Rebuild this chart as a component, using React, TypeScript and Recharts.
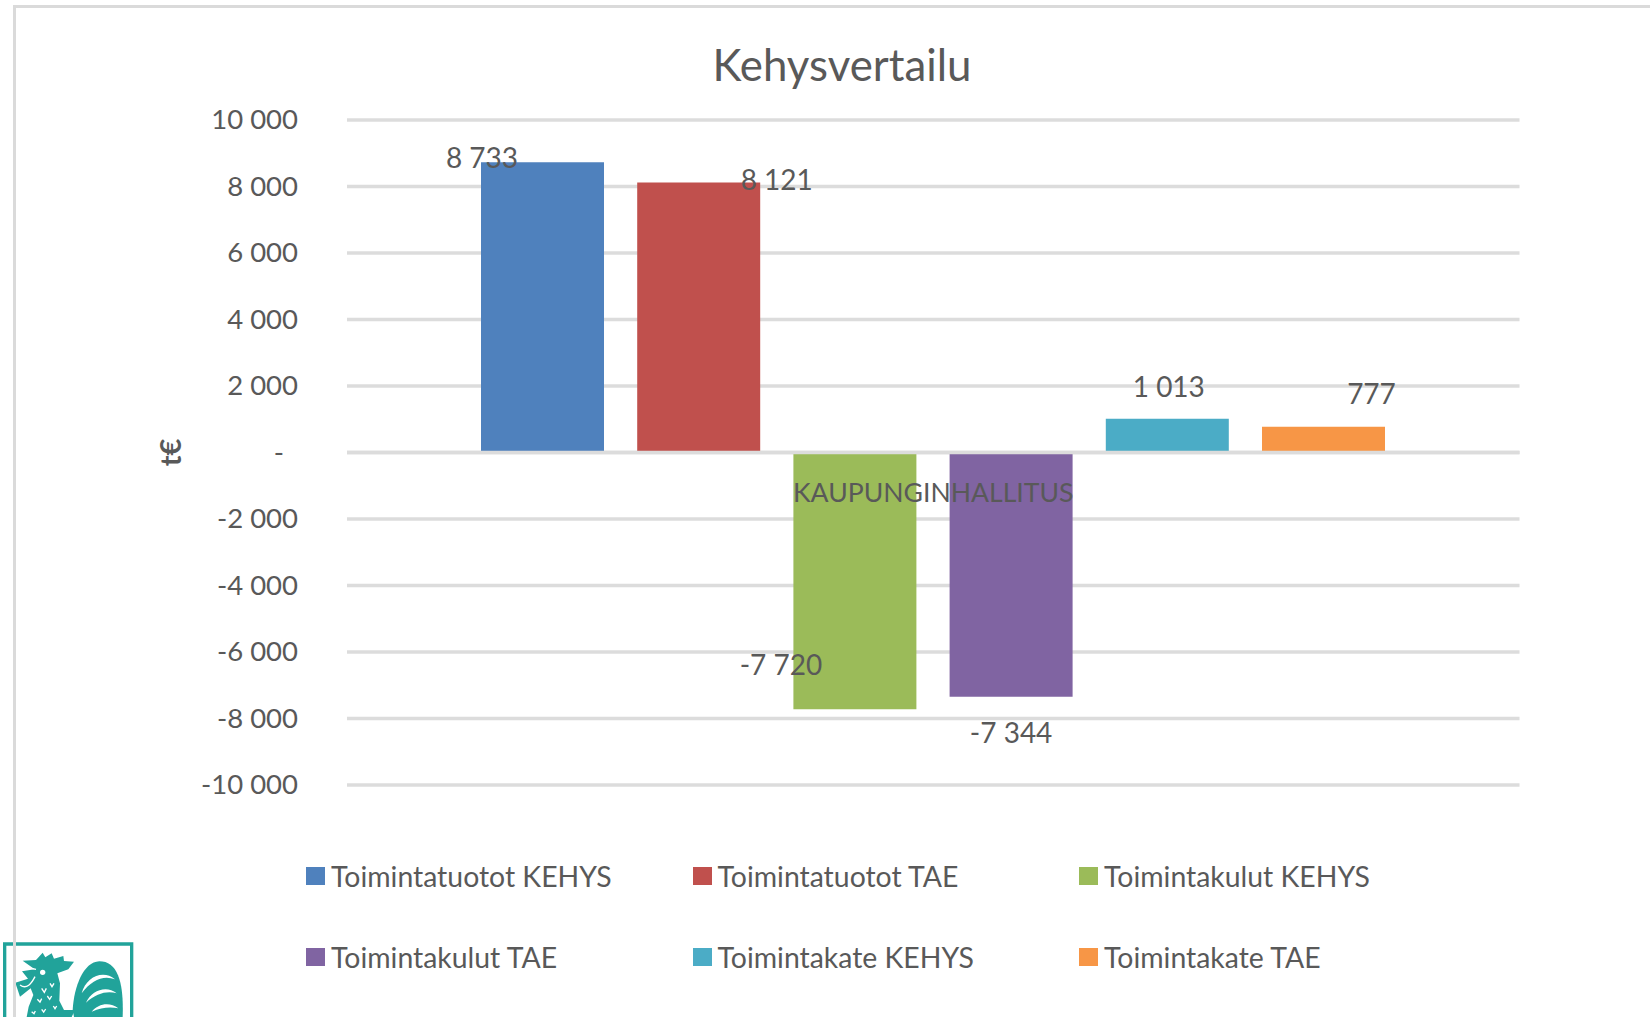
import React from "react";
import { BarChart, Bar, XAxis, YAxis, CartesianGrid, Legend, LabelList, ReferenceLine } from "recharts";

const CATEGORIES = ["KAUPUNGINHALLITUS"];
const SERIES_NAMES = [
  "Toimintatuotot KEHYS",
  "Toimintatuotot TAE",
  "Toimintakulut KEHYS",
  "Toimintakulut TAE",
  "Toimintakate KEHYS",
  "Toimintakate TAE",
];
const SERIES_VALUES = [8733, 8121, -7720, -7344, 1013, 777];
const Y_TICKS = [10000, 8000, 6000, 4000, 2000, 0, -2000, -4000, -6000, -8000, -10000];

const COLORS = ["#4f81bd", "#c0504d", "#9bbb59", "#8064a2", "#4bacc6", "#f79646"];
// where each data label sits, measured from the middle of the bar end
const LABEL_OFFSETS = [
  [-60.5, -5.5],
  [78, -3.5],
  [-74, -45],
  [0, 35],
  [1.5, -33],
  [48, -34],
];

const INK = "#595959";
const GRID = "#dcdcdc";
const FONT = "Lato, sans-serif";
const TEAL = "#21a39a";

const data = CATEGORIES.map((name) => {
  const row: Record<string, string | number> = { name };
  SERIES_NAMES.forEach((s, i) => (row[s] = SERIES_VALUES[i]));
  return row;
});

const fmt = (v: number) => String(v).replace(/\B(?=(\d{3})+$)/g, " ");

function YTick({ x, y, payload }: any) {
  const zero = payload.value === 0;
  return (
    <text x={zero ? x - 14 : x} y={y - 1.5} textAnchor="end" dominantBaseline="central" fill={INK} fontSize={27.5} fontFamily={FONT}>
      {zero ? "-" : fmt(payload.value)}
    </text>
  );
}

// category name sits just under the zero line, on top of the bars
function CategoryLabel({ viewBox }: any) {
  return (
    <text
      x={viewBox.x + viewBox.width / 2}
      y={viewBox.y + 39}
      textAnchor="middle"
      dominantBaseline="central"
      fill={INK}
      fontSize={26.6}
      fontFamily={FONT}
    >
      {CATEGORIES[0]}
    </text>
  );
}

function barLabel(i: number) {
  return function BarLabel({ x, y, width, height, value }: any) {
    const end = value < 0 ? Math.max(y, y + height) : Math.min(y, y + height);
    return (
      <text
        x={x + width / 2 + LABEL_OFFSETS[i][0]}
        y={end + LABEL_OFFSETS[i][1]}
        textAnchor="middle"
        dominantBaseline="central"
        fill={INK}
        fontSize={28}
        fontFamily={FONT}
      >
        {fmt(value)}
      </text>
    );
  };
}

function LegendGrid({ payload }: any) {
  return (
    <div style={{ position: "absolute", left: 306, top: 835, width: 1200, display: "grid", gridTemplateColumns: "386.5px 386.5px 386.5px", rowGap: 0 }}>
      {(payload || []).map((p: any) => (
        <div key={p.value} style={{ display: "flex", alignItems: "center", height: 81, fontFamily: FONT, fontSize: 28.4, color: INK, whiteSpace: "nowrap" }}>
          <span style={{ width: 19, height: 18, background: p.color, marginRight: 6, flex: "none" }} />
          {p.value}
        </div>
      ))}
    </div>
  );
}

function Logo() {
  return (
    <svg width={150} height={87} viewBox="0 0 450 261" style={{ position: "absolute", left: 0, top: 930 }}>
      <path d="M14 261 V42 H395 V261" fill="none" stroke={TEAL} strokeWidth={10} />
      <path
        d="M68 92 L108 90 L128 68 L136 82 L155 70 L162 86 L190 78 L192 93 L222 95 L205 118 L172 130 L180 160 L178 212 L192 240 L225 240 L215 261 L80 261 L86 230 L100 195 L92 175 L60 200 L46 158 L84 146 L66 124 L104 118 Z"
        fill={TEAL}
      />
      <path d="M222 261 L218 240 C222 170 250 96 298 94 C350 94 372 150 368 261 Z" fill={TEAL} />
      <path d="M60 165 C80 180 95 160 105 140 M72 110 L108 118" fill="none" stroke="#ffffff" strokeWidth={4} />
      <circle cx={128} cy={127} r={8} fill="#ffffff" />
      <path
        d="M245 190 C258 140 310 118 345 148 C310 135 275 150 245 190 Z M258 218 C275 180 320 165 350 190 C320 182 290 190 258 218 Z M275 245 C295 220 330 215 355 235 C330 230 305 232 275 245 Z"
        fill="#ffffff"
      />
      <path d="M125 175 l8 12 l6 -12 M150 160 l6 10 l6 -10 M112 208 l8 8 l5 -10 M142 198 l7 10 l6 -10 M95 245 l7 6 l4 -8 M125 238 l6 8 l6 -9 M160 228 l5 8 l5 -8" fill="none" stroke="#ffffff" strokeWidth={4} />
    </svg>
  );
}

export default function App() {
  return (
    <div style={{ position: "absolute", left: 0, top: 0, width: 1650, height: 1017, overflow: "hidden", background: "#ffffff" }}>
      <Logo />
      <div style={{ position: "absolute", left: 13, top: 5, width: 1640, height: 1020, border: "3px solid #dadada", boxSizing: "border-box" }} />
      <BarChart
        width={1650}
        height={1017}
        data={data}
        margin={{ top: 120, right: 130.5, bottom: 231, left: 0 }}
        barSize={123}
        barGap={33.2}
        style={{ position: "absolute", left: 0, top: 0 }}
      >
        <text x={842} y={64} textAnchor="middle" dominantBaseline="central" fill={INK} fontSize={43.8} fontFamily={FONT}>
          Kehysvertailu
        </text>
        <CartesianGrid vertical={false} stroke={GRID} strokeWidth={3.5} />
        <XAxis dataKey="name" height={1} axisLine={false} tickLine={false} tick={false} />
        <YAxis
          width={347}
          domain={[-10000, 10000]}
          ticks={Y_TICKS}
          interval={0}
          axisLine={false}
          tickLine={false}
          tickMargin={49}
          tickSize={0}
          tick={<YTick />}
          label={{ value: "t€", angle: -90, position: "insideLeft", dx: 166, textAnchor: "middle", fill: INK, fontSize: 29, fontFamily: FONT, fontWeight: 700 }}
        />
        {SERIES_NAMES.map((s, i) => (
          <Bar key={s} dataKey={s} name={s} fill={COLORS[i]} isAnimationActive={false}>
            <LabelList dataKey={s} content={barLabel(i)} />
          </Bar>
        ))}
        <ReferenceLine y={0} stroke={GRID} strokeWidth={3.5} label={<CategoryLabel />} />
        <Legend content={<LegendGrid />} wrapperStyle={{ height: 0, width: 0, left: 0, top: 0 }} itemSorter={null} />
      </BarChart>
    </div>
  );
}
